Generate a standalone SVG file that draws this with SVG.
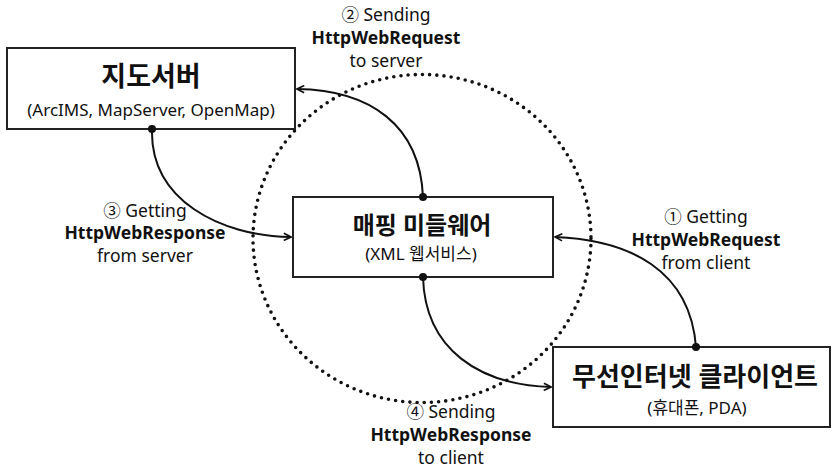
<svg xmlns="http://www.w3.org/2000/svg" width="836" height="470" viewBox="0 0 836 470">
<defs>
<marker id="arr" viewBox="0 0 10 10" refX="9" refY="5" markerWidth="9" markerHeight="9" markerUnits="userSpaceOnUse" orient="auto">
<path d="M1,1 L9,5 L1,9" fill="none" stroke="#111" stroke-width="1.8"/>
</marker>
<marker id="dot" viewBox="0 0 10 10" refX="5" refY="5" markerWidth="8" markerHeight="8" markerUnits="userSpaceOnUse">
<circle cx="5" cy="5" r="5" fill="#111"/>
</marker>
</defs>
<style>
.box{fill:#fff;stroke:#222;stroke-width:2}
.t{font-family:"Noto Sans","Noto Sans CJK KR",sans-serif;fill:#111;text-anchor:middle}
.big{font-weight:bold}
.sub{font-size:17px}
.lbl{font-size:17.5px}
.b{font-weight:bold}
.c{fill:none;stroke:#111;stroke-width:2}
</style>
<rect width="836" height="470" fill="#fff"/>
<ellipse cx="422" cy="238.5" rx="169" ry="164" fill="none" stroke="#111" stroke-width="3.6" stroke-linecap="round" stroke-dasharray="0 7.2"/>
<g id="map-server">
<rect class="box" x="7" y="48" width="288" height="81"/>
<text class="t big" x="151" y="86" font-size="27">지도서버</text>
<text class="t sub" x="151" y="116">(ArcIMS, MapServer, OpenMap)</text>
</g>
<g id="middleware">
<rect class="box" x="293" y="197" width="260" height="80"/>
<text class="t big" x="422" y="234" font-size="24">매핑 미들웨어</text>
<text class="t sub" x="421" y="260">(XML 웹서비스)</text>
</g>
<g id="client">
<rect class="box" x="553" y="347" width="277" height="80"/>
<text class="t big" x="695" y="386" font-size="26">무선인터넷 클라이언트</text>
<text class="t sub" x="697" y="414">(휴대폰, PDA)</text>
</g>
<g id="connectors">
<path class="c" d="M696,347 C690,270 630,240 555,237" marker-start="url(#dot)" marker-end="url(#arr)"/>
<path class="c" d="M423,197 C420,125 370,90 297,89" marker-start="url(#dot)" marker-end="url(#arr)"/>
<path class="c" d="M152,129 C150,200 220,236 291,237" marker-start="url(#dot)" marker-end="url(#arr)"/>
<path class="c" d="M423,277 C425,350 480,385 551,387" marker-start="url(#dot)" marker-end="url(#arr)"/>
</g>
<g id="labels">
<text class="t lbl" x="386" y="21">② Sending</text>
<text class="t lbl b" x="386" y="44">HttpWebRequest</text>
<text class="t lbl" x="386" y="67">to server</text>
<text class="t lbl" x="145" y="217">③ Getting</text>
<text class="t lbl b" x="145" y="239">HttpWebResponse</text>
<text class="t lbl" x="145" y="262">from server</text>
<text class="t lbl" x="706" y="223">① Getting</text>
<text class="t lbl b" x="706" y="246">HttpWebRequest</text>
<text class="t lbl" x="706" y="269">from client</text>
<text class="t lbl" x="451" y="418">④ Sending</text>
<text class="t lbl b" x="451" y="441">HttpWebResponse</text>
<text class="t lbl" x="451" y="464">to client</text>
</g>
</svg>
